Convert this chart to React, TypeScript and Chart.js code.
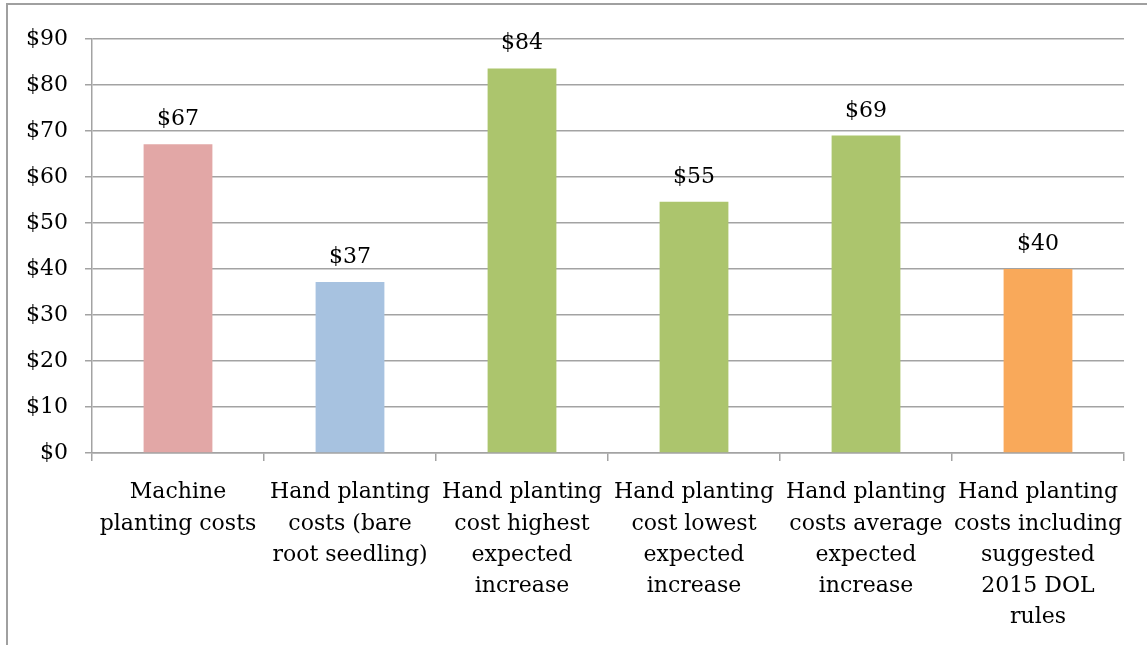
import React, { useEffect, useRef } from "react";
import { Chart, registerables } from "chart.js";

Chart.register(...registerables);

const categories: string[][] = [
  ["Machine", "planting costs"],
  ["Hand planting", "costs (bare", "root seedling)"],
  ["Hand planting", "cost highest", "expected", "increase"],
  ["Hand planting", "cost lowest", "expected", "increase"],
  ["Hand planting", "costs average", "expected", "increase"],
  ["Hand planting", "costs including", "suggested", "2015 DOL", "rules"],
];
const costValues: number[] = [67.1, 37.2, 83.6, 54.6, 69.0, 40.0];
const barColors: string[] = ["#E2A7A6", "#A7C2E0", "#ACC56D", "#ACC56D", "#ACC56D", "#F9A95A"];
const yTickMin = 0;
const yTickMax = 90;
const yTickStep = 10;

const FONT = "'DejaVu Serif', serif";
const GRID = "#a3a3a3";

const valueLabels = {
  id: "valueLabels",
  afterDatasetsDraw(chart: any) {
    const ctx = chart.ctx;
    const meta = chart.getDatasetMeta(0);
    ctx.save();
    ctx.font = `22px ${FONT}`;
    ctx.fillStyle = "#000";
    ctx.textAlign = "center";
    ctx.textBaseline = "alphabetic";
    meta.data.forEach((bar: any, i: number) => {
      const v = chart.data.datasets[0].data[i] as number;
      ctx.fillText("$" + Math.round(v), bar.x, bar.y - 19);
    });
    ctx.restore();
  },
};

export default function App() {
  const ref = useRef<HTMLCanvasElement>(null);
  useEffect(() => {
    if (!ref.current) return;
    const chart = new Chart(ref.current, {
      type: "bar",
      data: {
        labels: categories,
        datasets: [
          {
            data: costValues,
            backgroundColor: barColors,
            borderWidth: 0,
            categoryPercentage: 1,
            barPercentage: 0.4,
          },
        ],
      },
      options: {
        animation: false,
        responsive: false,
        maintainAspectRatio: false,
        layout: { padding: { top: 39, right: 23, left: 0, bottom: 0 } },
        plugins: { legend: { display: false }, tooltip: { enabled: false } },
        scales: {
          x: {
            grid: {
              drawOnChartArea: false,
              drawTicks: true,
              tickLength: 8,
              color: GRID,
              lineWidth: 1.5,
            },
            border: { display: true, color: GRID, width: 1.5 },
            ticks: {
              color: "#000",
              font: { family: FONT, size: 22, lineHeight: 1.42 },
              maxRotation: 0,
              minRotation: 0,
              autoSkip: false,
              padding: 16,
            },
            afterFit(scale: any) {
              scale.height = 192;
            },
          },
          y: {
            min: yTickMin,
            max: yTickMax,
            grid: { color: GRID, lineWidth: 1.5, tickLength: 7 },
            border: { display: true, color: GRID, width: 1.5 },
            ticks: {
              stepSize: yTickStep,
              color: "#000",
              font: { family: FONT, size: 22 },
              padding: 17,
              callback: (v: any) => "$" + v,
            },
            afterFit(scale: any) {
              scale.width = 92;
            },
          },
        },
      },
      plugins: [valueLabels],
    });
    return () => chart.destroy();
  }, []);
  return (
    <div style={{ position: "fixed", left: 0, top: 0, width: 1147, height: 645, background: "#fff", overflow: "hidden" }}>
      <div
        style={{
          position: "absolute",
          left: 6,
          top: 3,
          width: 1400,
          height: 900,
          borderTop: "2px solid #a0a0a0",
          borderLeft: "2px solid #a0a0a0",
        }}
      />
      <canvas ref={ref} width={1147} height={645} style={{ position: "absolute", left: 0, top: 0 }} />
    </div>
  );
}
